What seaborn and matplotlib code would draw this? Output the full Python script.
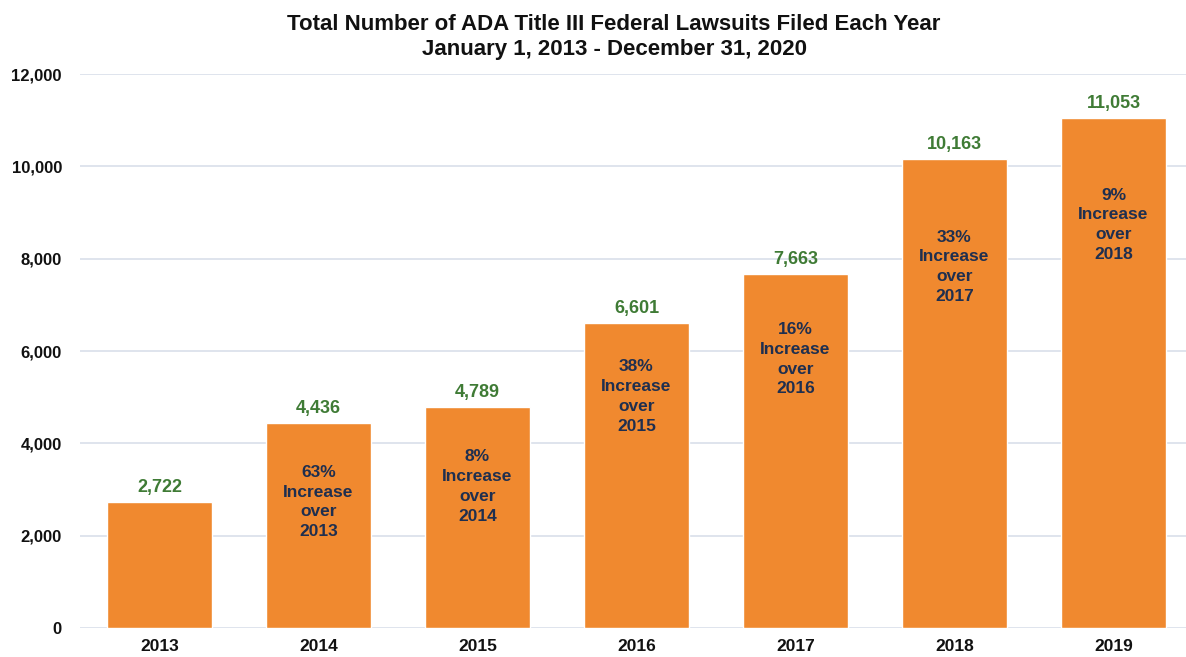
import matplotlib
matplotlib.use("Agg")
import matplotlib.pyplot as plt
import seaborn as sns
import pandas as pd

years = ["2013", "2014", "2015", "2016", "2017", "2018", "2019"]
lawsuits = [2722, 4436, 4789, 6601, 7663, 10163, 11053]
notes = ["", "63%\nIncrease\nover\n2013", "8%\nIncrease\nover\n2014",
         "38%\nIncrease\nover\n2015", "16%\nIncrease\nover\n2016",
         "33%\nIncrease\nover\n2017", "9%\nIncrease\nover\n2018"]
title_lines = ["Total Number of ADA Title III Federal Lawsuits Filed Each Year",
               "January 1, 2013 - December 31, 2020"]
y_ticks = [0, 2000, 4000, 6000, 8000, 10000, 12000]

# layout: vertical centre of the note inside each bar (fraction of bar height)
note_frac = [0.6, 0.615, 0.64, 0.76, 0.76, 0.77, 0.79]

sns.set_theme(style="white")
plt.rcParams["font.family"] = ["Liberation Sans", "DejaVu Sans"]

df = pd.DataFrame({"year": years, "count": lawsuits})

fig = plt.figure(figsize=(11.86, 6.57), dpi=100)
ax = fig.add_axes([80/1186, 29/657, 1106/1186, 554/657])

orange = "#F0892F"
sns.barplot(data=df, x="year", y="count", color=orange, width=0.655,
            saturation=1, ax=ax, zorder=3)

ax.set_ylim(0, 12000)
ax.set_xlim(-0.5, -0.5 + 1106/159)
ax.set_yticks(y_ticks)
ax.set_yticklabels([f"{v:,}" for v in y_ticks], fontsize=12, fontweight="bold", color="#111111")
ax.set_xticks(range(len(years)))
ax.set_xticklabels(years, fontsize=12.5, fontweight="bold", color="#111111")
ax.set_xlabel("")
ax.set_ylabel("")
ax.yaxis.grid(True, color="#DCE2EC", linewidth=1.3, zorder=0)
ax.xaxis.grid(False)
for s in ax.spines.values():
    s.set_visible(False)
ax.tick_params(axis="y", pad=13, length=0)
ax.tick_params(axis="x", pad=8, length=0)

for i, (v, n) in enumerate(zip(lawsuits, notes)):
    ax.text(i, v + 130, f"{v:,}", ha="center", va="bottom", fontsize=13,
            fontweight="bold", color="#3F7B35", zorder=4)
    if n:
        ax.text(i, v * note_frac[i], n, ha="center", va="center", fontsize=12.5,
                fontweight="bold", color="#1F2F4F", linespacing=1.4, zorder=4)

fig.text(614/1186, 1 - 25/657, title_lines[0], ha="center", va="center",
         fontsize=16, fontweight="bold", color="#111111")
fig.text(614/1186, 1 - 50/657, title_lines[1], ha="center", va="center",
         fontsize=16, fontweight="bold", color="#111111")

fig.savefig("out.png", dpi=100, facecolor="white")
